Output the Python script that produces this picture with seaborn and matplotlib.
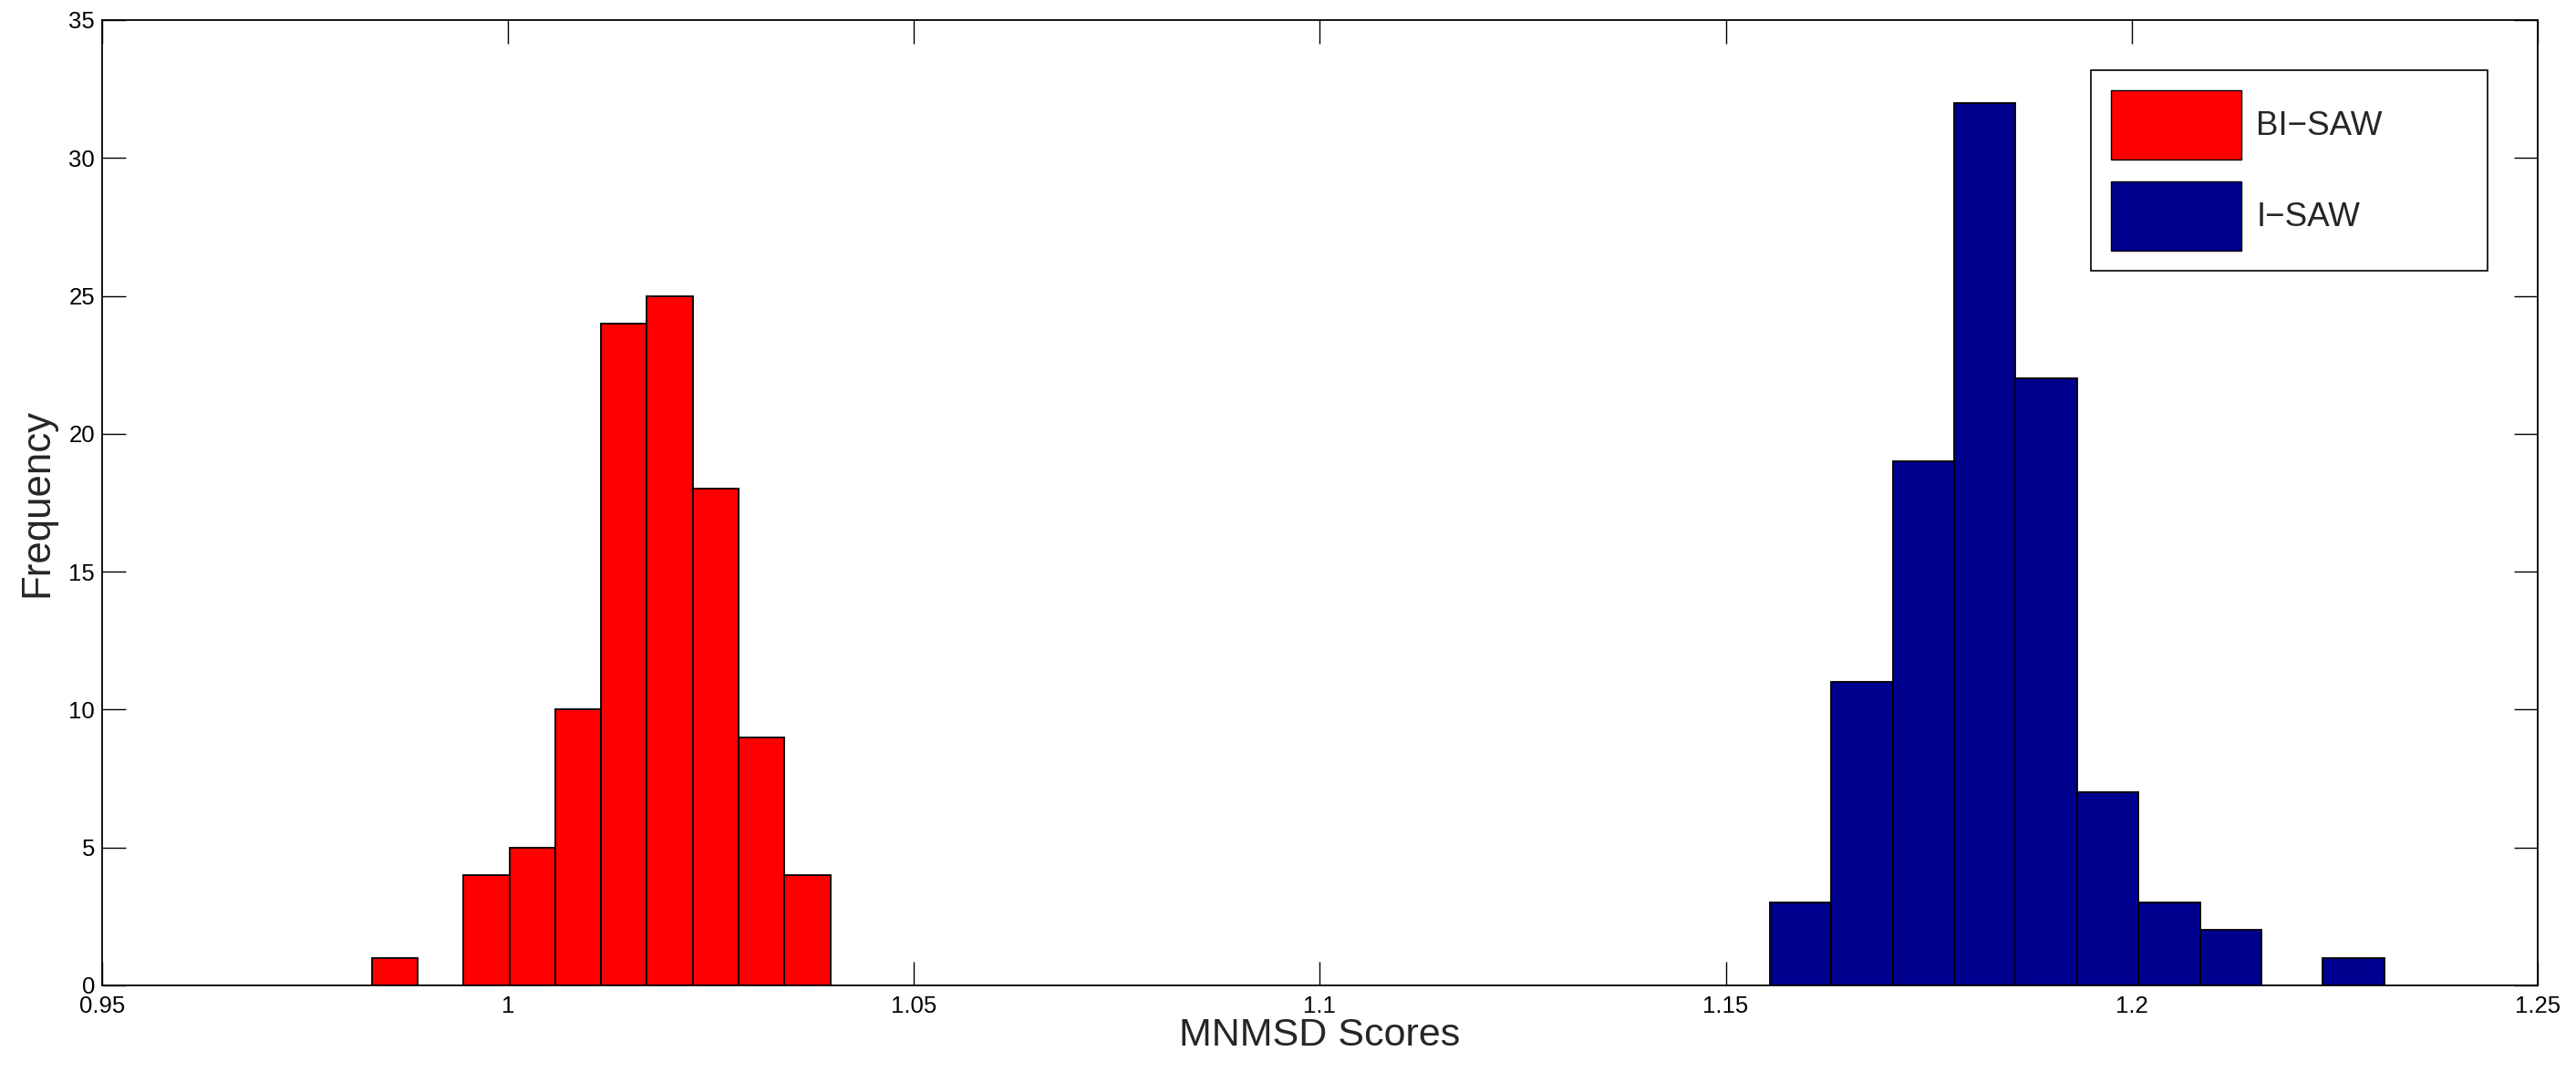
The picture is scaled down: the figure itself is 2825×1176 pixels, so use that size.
import numpy as np
import pandas as pd
import matplotlib
matplotlib.use('Agg')
import matplotlib.pyplot as plt
from matplotlib.patches import Patch
import seaborn as sns

# ─── data ────────────────────────────────────────────────────────────────────
bisaw_edges = [0.9833, 0.9889, 0.9945, 1.0002, 1.0058, 1.0115,
               1.0171, 1.0228, 1.0284, 1.0340, 1.0397]
bisaw_counts = [1, 0, 4, 5, 10, 24, 25, 18, 9, 4]

isaw_edges = [1.1554, 1.1630, 1.1706, 1.1781, 1.1857, 1.1933,
              1.2008, 1.2084, 1.2160, 1.2235, 1.2311]
isaw_counts = [3, 11, 19, 32, 22, 7, 3, 2, 0, 1]

x_ticks = [0.95, 1.0, 1.05, 1.1, 1.15, 1.2, 1.25]
x_ticklabels = ['0.95', '1', '1.05', '1.1', '1.15', '1.2', '1.25']
y_ticks = [0, 5, 10, 15, 20, 25, 30, 35]

RED = '#FF0000'
BLUE = '#00008F'

sns.set_style('ticks')
plt.rcParams['font.family'] = ['Liberation Sans', 'DejaVu Sans']

def to_frame(edges, counts):
    e = np.asarray(edges)
    return pd.DataFrame({'score': (e[:-1] + e[1:]) / 2, 'n': counts})

fig = plt.figure(figsize=(28.25, 11.76), dpi=100)
ax = fig.add_axes([0.0396, 0.0808, 0.9455, 0.9005])

sns.histplot(data=to_frame(bisaw_edges, bisaw_counts), x='score', weights='n',
             bins=bisaw_edges, color=RED, edgecolor='black', linewidth=1.3,
             alpha=1, ax=ax)
sns.histplot(data=to_frame(isaw_edges, isaw_counts), x='score', weights='n',
             bins=isaw_edges, color=BLUE, edgecolor='black', linewidth=1.3,
             alpha=1, ax=ax)

ax.set_xlim(0.95, 1.25)
ax.set_ylim(0, 35)
ax.set_xticks(x_ticks)
ax.set_xticklabels(x_ticklabels)
ax.set_yticks(y_ticks)
ax.tick_params(direction='in', length=19, width=1, top=True, right=True,
               labelsize=18.5, colors='black')
ax.tick_params(axis='x', pad=8)
ax.tick_params(axis='y', pad=5.5)
for s in ax.spines.values():
    s.set_visible(True)
    s.set_color('black')
    s.set_linewidth(1.3)

ax.set_xlabel('MNMSD Scores', fontsize=31, labelpad=0)
ax.set_ylabel('Frequency', fontsize=31.5, labelpad=10.5)

handles = [Patch(facecolor=RED, edgecolor='black', linewidth=1, label='BI\u2212SAW'),
           Patch(facecolor=BLUE, edgecolor='black', linewidth=1, label='I\u2212SAW')]
leg = ax.legend(handles=handles, loc='upper left',
                bbox_to_anchor=(0.8165, 0.743, 0.1629, 0.205), mode='expand',
                fontsize=26.5, frameon=True, fancybox=False, shadow=False,
                handlelength=3.9, handleheight=2.8, labelspacing=0.65,
                borderpad=0.6, handletextpad=0.43, borderaxespad=0)
leg.get_frame().set_edgecolor('black')
leg.get_frame().set_linewidth(1.2)
leg.get_frame().set_alpha(1)

fig.savefig('out.png', dpi=100, facecolor='white')
